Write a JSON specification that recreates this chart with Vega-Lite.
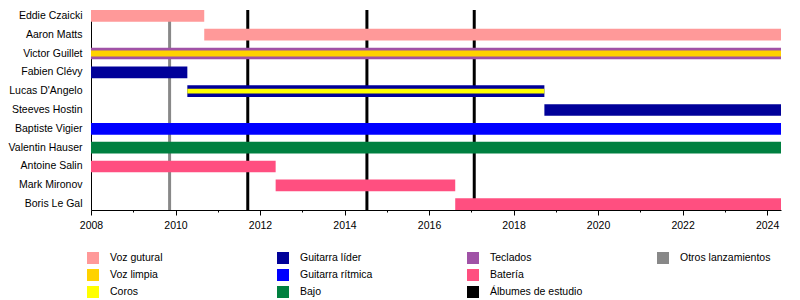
{
  "$schema": "https://vega.github.io/schema/vega-lite/v6.json",
  "width": 690,
  "height": 200,
  "autosize": {"type": "none"},
  "padding": {"left": 91, "top": 10, "right": 19, "bottom": 90},
  "background": "white",
  "config": {"view": {"stroke": null}, "font": "Liberation Sans"},
  "datasets": {
    "members": [
      {"member": "Eddie Czaicki", "role": "Voz gutural", "start": 2008, "end": 2010.68},
      {"member": "Aaron Matts", "role": "Voz gutural", "start": 2010.68, "end": 2024.33},
      {"member": "Victor Guillet", "role": "Teclados", "start": 2008, "end": 2024.33},
      {"member": "Victor Guillet", "role": "Voz limpia", "start": 2008, "end": 2024.33},
      {"member": "Fabien Clévy", "role": "Guitarra líder", "start": 2008, "end": 2010.28},
      {"member": "Lucas D'Angelo", "role": "Guitarra líder", "start": 2010.28, "end": 2018.73},
      {"member": "Lucas D'Angelo", "role": "Coros", "start": 2010.28, "end": 2018.73},
      {"member": "Steeves Hostin", "role": "Guitarra líder", "start": 2018.73, "end": 2024.33},
      {"member": "Baptiste Vigier", "role": "Guitarra rítmica", "start": 2008, "end": 2024.33},
      {"member": "Valentin Hauser", "role": "Bajo", "start": 2008, "end": 2024.33},
      {"member": "Antoine Salin", "role": "Batería", "start": 2008, "end": 2012.37},
      {"member": "Mark Mironov", "role": "Batería", "start": 2012.37, "end": 2016.62},
      {"member": "Boris Le Gal", "role": "Batería", "start": 2016.62, "end": 2024.33}
    ],
    "events": [
      {"type": "Otros lanzamientos", "year": 2009.86},
      {"type": "Álbumes de estudio", "year": 2011.71},
      {"type": "Álbumes de estudio", "year": 2014.53},
      {"type": "Álbumes de estudio", "year": 2017.07}
    ]
  },
  "layer": [
    {
      "data": {"name": "events"},
      "mark": {"type": "rule", "strokeWidth": 3},
      "encoding": {
        "x": {
          "field": "year", "type": "quantitative",
          "scale": {"domain": [2008, 2024.33], "nice": false, "zero": false},
          "axis": {
            "title": null, "grid": false,
            "values": [2008, 2009, 2010, 2011, 2012, 2013, 2014, 2015, 2016, 2017, 2018, 2019, 2020, 2021, 2022, 2023, 2024],
            "format": "d",
            "labelExpr": "datum.value % 2 == 0 ? datum.label : ''",
            "tickSize": {"condition": {"test": "datum.value % 2 == 0", "value": 5}, "value": 2},
            "domainColor": "black", "tickColor": "black", "labelColor": "black",
            "labelFontSize": 10.5, "labelFont": "Liberation Sans", "labelPadding": 5,
            "labelFlush": false, "labelOverlap": false
          }
        },
        "stroke": {
          "field": "type", "type": "nominal",
          "scale": {"domain": ["Otros lanzamientos", "Álbumes de estudio"], "range": ["#888888", "#000000"]},
          "legend": null
        }
      }
    },
    {
      "data": {"name": "members"},
      "transform": [{"filter": {"not": {"field": "role", "oneOf": ["Voz limpia", "Coros"]}}}],
      "mark": {"type": "bar"},
      "encoding": {
        "y": {
          "field": "member", "type": "nominal",
          "sort": ["Eddie Czaicki", "Aaron Matts", "Victor Guillet", "Fabien Clévy", "Lucas D'Angelo", "Steeves Hostin", "Baptiste Vigier", "Valentin Hauser", "Antoine Salin", "Mark Mironov", "Boris Le Gal"],
          "scale": {"paddingInner": 0.38, "paddingOuter": 0},
          "axis": {"title": null, "ticks": false, "domainColor": "black", "labelColor": "black", "labelFontSize": 10.5, "labelFont": "Liberation Sans", "labelPadding": 9, "labelLimit": 200}
        },
        "x": {
          "field": "start", "type": "quantitative",
          "scale": {"domain": [2008, 2024.33], "nice": false, "zero": false},
          "axis": {
            "title": null, "grid": false,
            "values": [2008, 2009, 2010, 2011, 2012, 2013, 2014, 2015, 2016, 2017, 2018, 2019, 2020, 2021, 2022, 2023, 2024],
            "format": "d",
            "labelExpr": "datum.value % 2 == 0 ? datum.label : ''",
            "tickSize": {"condition": {"test": "datum.value % 2 == 0", "value": 5}, "value": 2},
            "domainColor": "black", "tickColor": "black", "labelColor": "black",
            "labelFontSize": 10.5, "labelFont": "Liberation Sans", "labelPadding": 5,
            "labelFlush": false, "labelOverlap": false
          }
        },
        "x2": {"field": "end"},
        "color": {
          "field": "role", "type": "nominal",
          "scale": {
            "domain": ["Voz gutural", "Voz limpia", "Coros", "Guitarra líder", "Guitarra rítmica", "Bajo", "Teclados", "Batería", "Álbumes de estudio", "Otros lanzamientos", " "],
            "range": ["#FF9999", "#FFD200", "#FFFF00", "#000099", "#0000FF", "#008040", "#A052A6", "#FF4F80", "#000000", "#888888", "#FFFFFF"]
          },
          "legend": {
            "title": null, "orient": "none", "legendX": -4, "legendY": 242, "padding": 0,
            "direction": "vertical", "columns": 4, "gridAlign": "all", "columnPadding": 74, "rowPadding": 5,
            "symbolType": "square", "symbolSize": 144, "symbolStrokeWidth": 0, "symbolOpacity": 1,
            "labelOffset": 11, "labelFontSize": 10.5, "labelFont": "Liberation Sans", "labelColor": "black", "labelLimit": 200
          }
        }
      }
    },
    {
      "data": {"name": "members"},
      "transform": [{"filter": {"field": "role", "equal": "Voz limpia"}}],
      "mark": {"type": "bar", "height": {"band": 0.5}},
      "encoding": {
        "y": {"field": "member", "type": "nominal", "sort": ["Eddie Czaicki", "Aaron Matts", "Victor Guillet", "Fabien Clévy", "Lucas D'Angelo", "Steeves Hostin", "Baptiste Vigier", "Valentin Hauser", "Antoine Salin", "Mark Mironov", "Boris Le Gal"]},
        "x": {"field": "start", "type": "quantitative"},
        "x2": {"field": "end"},
        "fill": {"field": "role", "type": "nominal", "scale": {"domain": ["Voz limpia", "Coros"], "range": ["#FFD200", "#FFFF00"]}, "legend": null}
      }
    },
    {
      "data": {"name": "members"},
      "transform": [{"filter": {"field": "role", "equal": "Coros"}}],
      "mark": {"type": "bar", "height": {"band": 0.4}},
      "encoding": {
        "y": {"field": "member", "type": "nominal", "sort": ["Eddie Czaicki", "Aaron Matts", "Victor Guillet", "Fabien Clévy", "Lucas D'Angelo", "Steeves Hostin", "Baptiste Vigier", "Valentin Hauser", "Antoine Salin", "Mark Mironov", "Boris Le Gal"]},
        "x": {"field": "start", "type": "quantitative"},
        "x2": {"field": "end"},
        "fill": {"field": "role", "type": "nominal", "scale": {"domain": ["Voz limpia", "Coros"], "range": ["#FFD200", "#FFFF00"]}, "legend": null}
      }
    }
  ]
}
